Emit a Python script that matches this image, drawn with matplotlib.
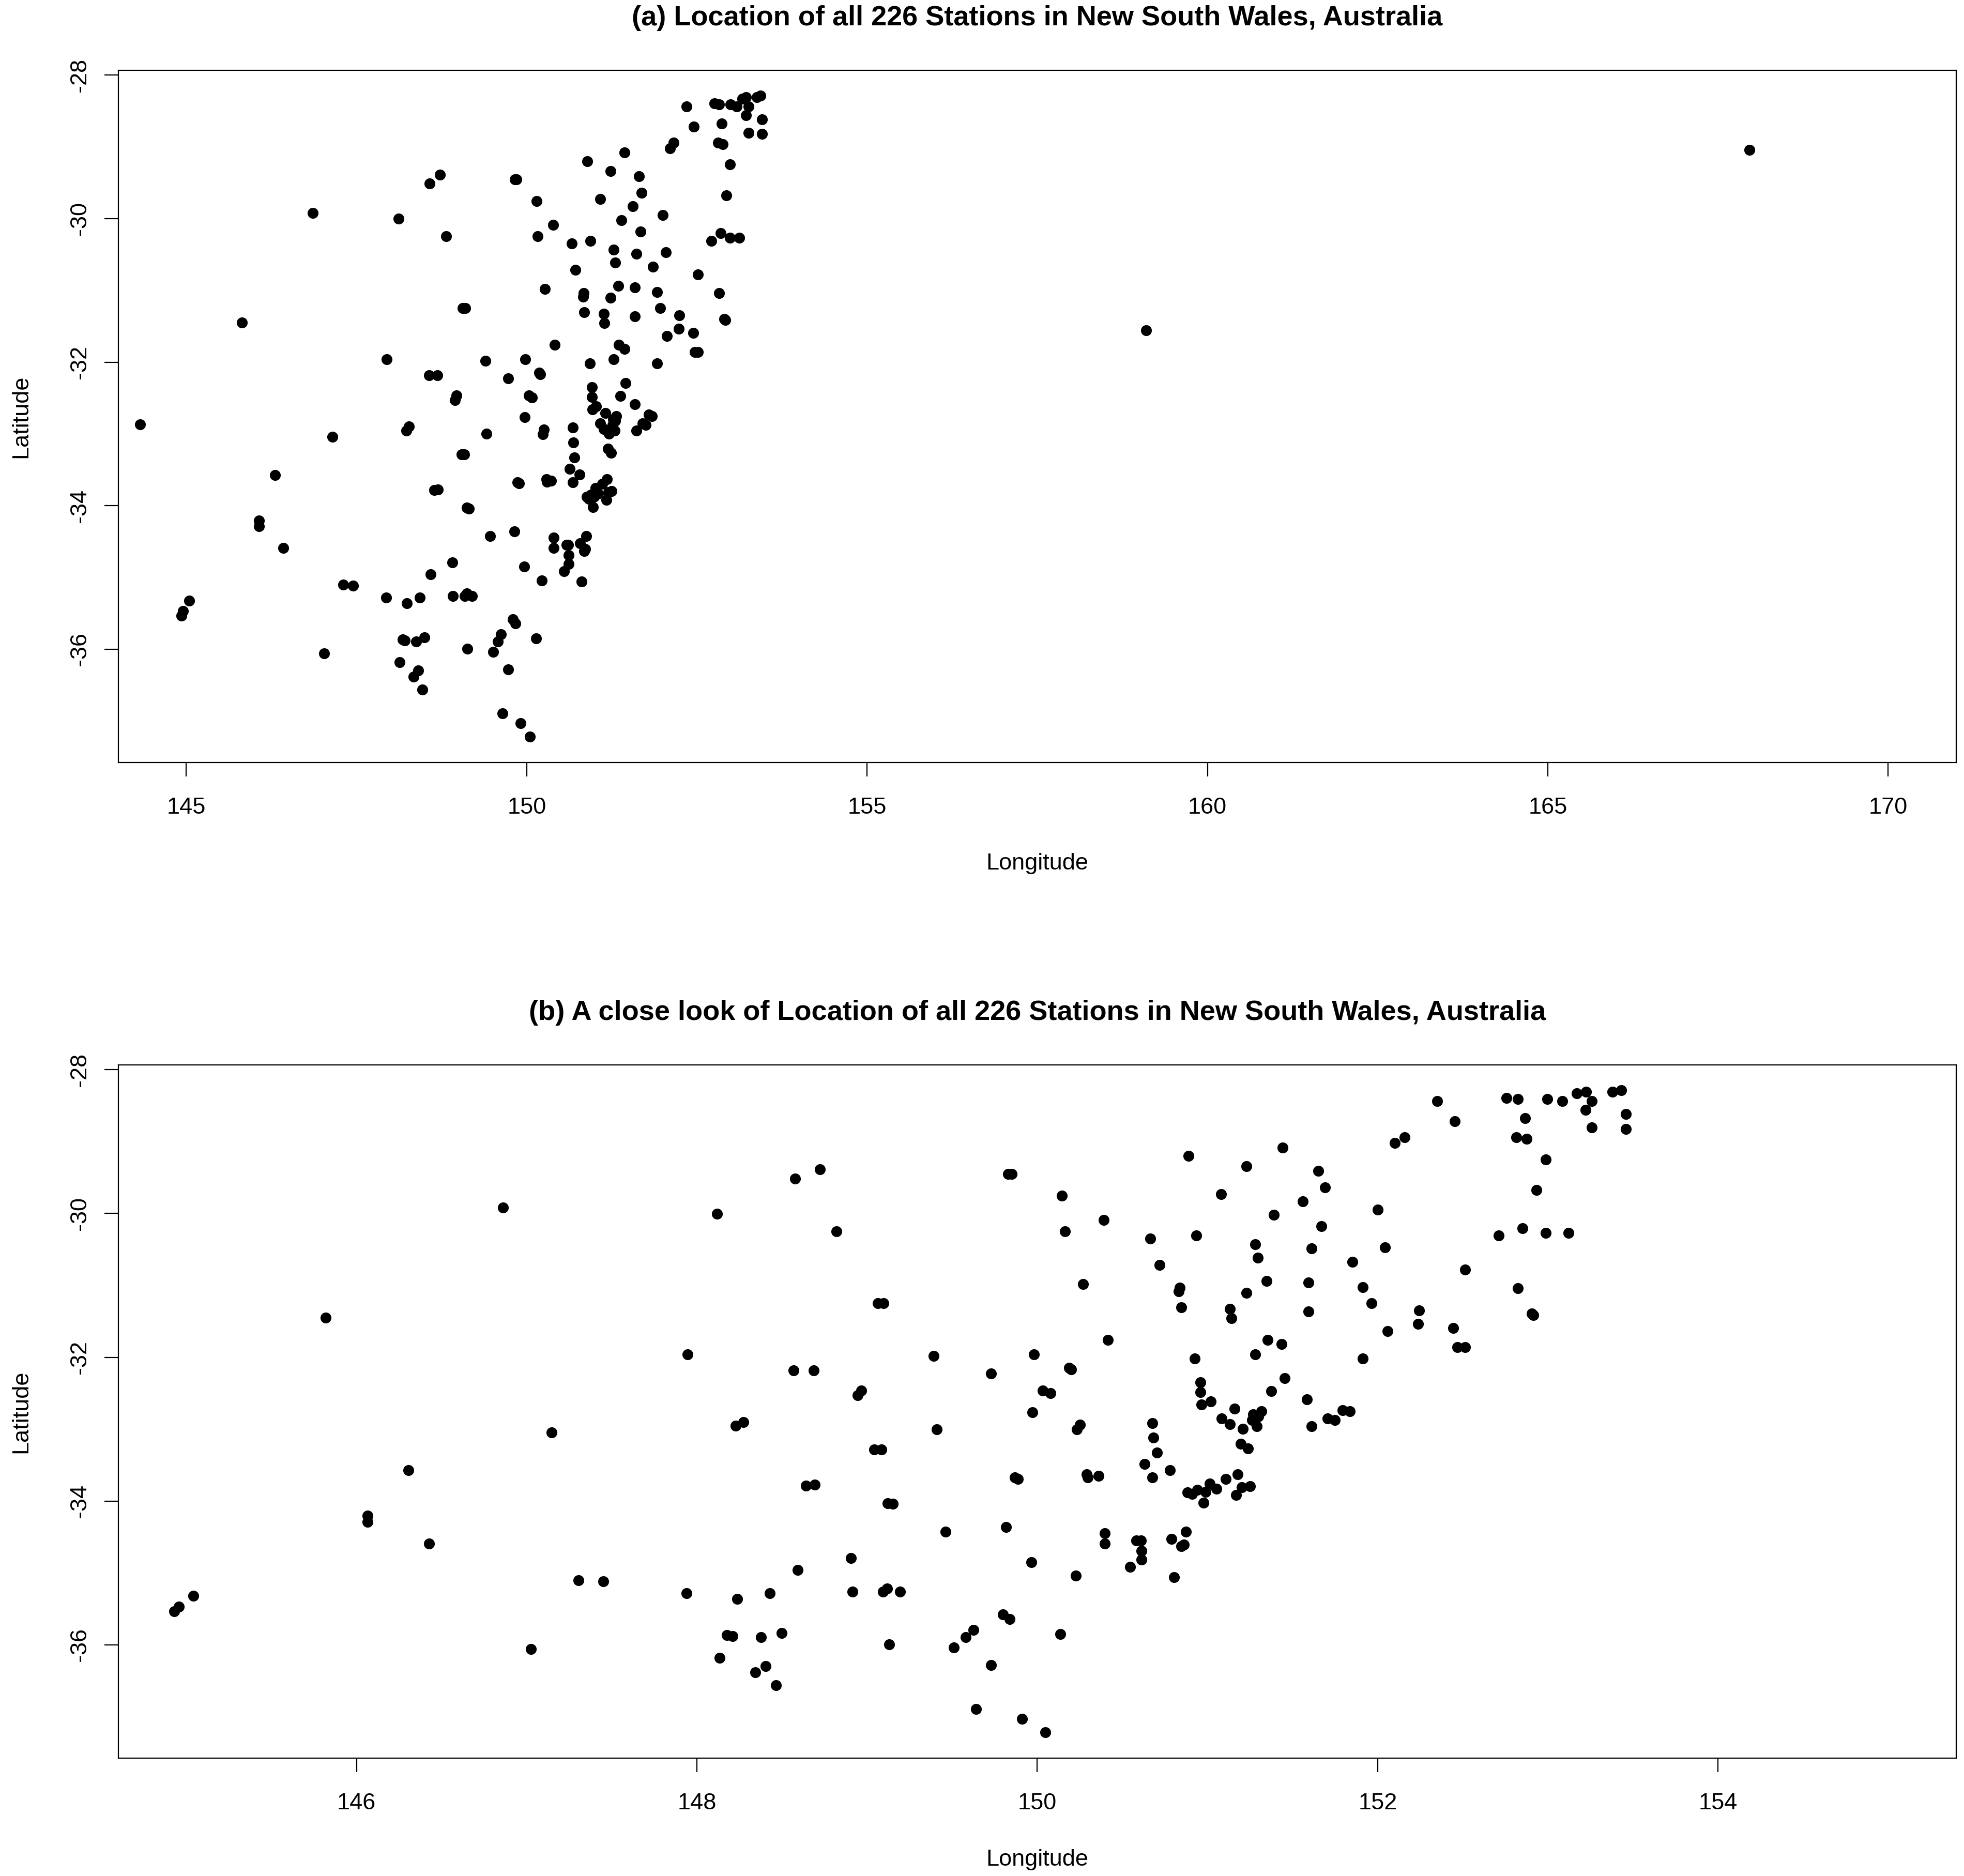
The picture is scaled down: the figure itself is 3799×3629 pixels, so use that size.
import matplotlib
matplotlib.use('Agg')
import matplotlib.pyplot as plt

# ── Station coordinates ───────────────────────────────────────────────────────
LON = [
    # west / inland
    144.32, 144.93, 144.955, 145.04, 145.82, 146.065, 146.065, 146.306, 146.428, 146.861,
    147.147, 147.024, 147.303, 147.45, 147.938, 147.945, 148.119, 148.133, 148.176, 148.211,
    148.237, 148.229, 148.272, 148.342, 148.403, 148.377, 148.429, 148.464, 148.497, 148.577,
    148.569, 148.591, 148.642, 148.694, 148.687, 148.724, 148.820, 148.905, 148.914, 148.966,
    148.945, 149.043, 149.083, 149.062, 149.095, 149.092, 149.118, 149.130, 149.12, 149.15,
    149.193, 149.392, 149.409, 149.462, 149.510, 149.580, 149.624, 149.641, 149.728, 149.728,
    149.816, 149.798, 149.838, 149.83, 149.85, 149.868, 149.885, 149.911, 149.981, 149.972,
    149.964, 150.046, 150.033, 150.077, 150.135, 150.145, 150.163, 150.187, 150.199, 150.234,
    150.25, 150.225, 150.27, 150.29, 150.295, 150.36, 150.39, 150.415,
    # south coast
    150.398, 150.398, 150.583, 150.608, 150.613, 150.613, 150.545, 150.787, 150.874, 150.846,
    150.861, 150.805,
    # northern tablelands
    150.89, 151.08, 151.23, 151.39, 151.44, 151.56, 151.65, 151.67, 151.69, 152.00,
    # hunter / central coast / sydney
    150.665, 150.934, 150.719, 151.281, 151.297, 151.611, 152.042, 151.853, 150.836, 150.830,
    150.847, 151.348, 151.229, 151.592, 151.912, 151.964, 151.133, 151.142, 151.592, 152.059,
    151.354, 151.435, 151.281, 150.925, 151.912, 151.453, 150.960, 150.960, 151.375, 151.585,
    150.966, 151.020, 151.158, 151.267, 151.316, 151.263, 151.291, 151.30, 151.082, 151.133,
    151.209, 151.612, 151.706, 151.749, 151.793, 151.836, 150.676, 150.683, 150.703, 150.630,
    150.779, 150.676, 151.194, 151.237, 151.177, 151.107, 151.012, 151.053, 150.882, 150.909,
    150.941, 150.990, 150.977, 151.202, 151.250, 151.169,
    # north coast
    152.349, 152.453, 152.157, 152.102, 152.756, 152.824, 152.867, 152.815, 152.876, 152.997,
    153.084, 153.171, 153.225, 153.258, 153.223, 153.258, 153.379, 153.431, 153.458, 153.458,
    152.989, 152.932, 152.712, 152.851, 152.989, 153.120, 152.515, 152.824, 152.243, 152.236,
    152.444, 152.905, 152.915, 152.468, 152.513,
    # offshore islands
    159.10, 167.96,
]

LAT = [
    # west / inland
    -32.87, -35.53, -35.47, -35.32, -31.45, -34.205, -34.289, -33.571, -34.589, -29.919,
    -33.043, -36.057, -35.101, -35.117, -35.282, -31.959, -30.003, -36.179, -35.861, -35.876,
    -35.361, -32.955, -32.899, -36.382, -36.298, -35.892, -35.282, -36.563, -35.835, -29.512,
    -32.181, -34.955, -33.783, -33.774, -32.181, -29.388, -30.246, -34.792, -35.261, -32.466,
    -32.526, -33.286, -33.286, -31.247, -31.247, -35.261, -35.220, -35.995, -34.03, -34.04,
    -35.261, -31.980, -32.999, -34.423, -36.039, -35.892, -35.792, -36.891, -32.223, -36.282,
    -34.361, -35.579, -35.642, -29.45, -29.45, -33.674, -33.69, -37.032, -31.959, -32.763,
    -34.851, -37.219, -32.466, -32.496, -35.851, -29.755, -30.246, -32.150, -32.171, -33.002,
    -32.94, -35.039, -30.98, -33.63, -33.67, -33.65, -30.09, -31.755,
    # south coast
    -34.446, -34.590, -34.546, -34.546, -34.690, -34.811, -34.914, -34.527, -34.426, -34.630,
    -34.606, -35.058,
    # northern tablelands
    -29.20, -29.73, -29.34, -30.02, -29.08, -29.83, -29.41, -30.18, -29.64, -29.95,
    # hunter / central coast / sydney
    -30.348, -30.309, -30.713, -30.430, -30.615, -30.489, -30.471, -30.674, -31.035, -31.086,
    -31.305, -30.939, -31.104, -30.957, -31.022, -31.246, -31.325, -31.454, -31.364, -31.634,
    -31.755, -31.814, -31.961, -32.020, -32.020, -32.288, -32.347, -32.488, -32.468, -32.586,
    -32.656, -32.612, -32.712, -32.797, -32.754, -32.875, -32.957, -32.82, -32.854, -32.934,
    -32.998, -32.957, -32.854, -32.875, -32.733, -32.754, -32.913, -33.119, -33.325, -33.487,
    -33.569, -33.672, -33.204, -33.266, -33.628, -33.693, -33.755, -33.832, -33.878, -33.904,
    -33.847, -33.873, -34.020, -33.809, -33.796, -33.917,
    # north coast
    -28.436, -28.719, -28.943, -29.020, -28.392, -28.410, -28.675, -28.943, -28.964, -28.410,
    -28.436, -28.328, -28.307, -28.436, -28.557, -28.802, -28.307, -28.289, -28.616, -28.822,
    -29.247, -29.676, -30.309, -30.204, -30.268, -30.268, -30.778, -31.040, -31.349, -31.532,
    -31.594, -31.395, -31.410, -31.859, -31.859,
    # offshore islands
    -31.56, -29.04,
]

TITLE_A = '(a) Location of all 226 Stations in New South Wales, Australia'
TITLE_B = '(b) A close look of Location of all 226 Stations in New South Wales, Australia'
XTICKS_A = [145, 150, 155, 160, 165, 170]
XTICKS_B = [146, 148, 150, 152, 154]
YTICKS = [-28, -30, -32, -34, -36]
XLIM_A = (145, 170)
XLIM_B = (145, 155)

# ── Style ─────────────────────────────────────────────────────────────────────
plt.rcParams['font.family'] = ['Liberation Sans', 'DejaVu Sans']
FS = 16.25
AX_LW = 0.8


def r_lim(lo, hi, frac=0.04):
    # R-style axis range: extend 4% each side
    span = hi - lo
    return lo - frac * span, hi + frac * span


def draw_panel(ax, title, xlim, xticks):
    ax.plot(LON, LAT, linestyle='none', marker='o', markersize=7.6,
            color='black', markeredgewidth=0, clip_on=True)
    ax.set_xlim(*r_lim(*xlim))
    ax.set_ylim(*r_lim(min(LAT), max(LAT)))
    ax.set_xticks(xticks)
    ax.set_yticks(YTICKS)
    ax.set_xticklabels([str(t) for t in xticks])
    ax.set_yticklabels([str(t) for t in YTICKS], rotation=90, va='center')
    ax.tick_params(axis='both', direction='out', length=9.7, width=AX_LW,
                   labelsize=FS, color='black')
    ax.tick_params(axis='x', pad=14.5)
    ax.tick_params(axis='y', pad=9.5)
    for s in ax.spines.values():
        s.set_linewidth(AX_LW)
    ax.set_xlabel('Longitude', fontsize=FS)
    ax.set_ylabel('Latitude', fontsize=FS)
    ax.xaxis.set_label_coords(0.5, -196 / 1339)
    ax.xaxis.label.set_va('center')
    ax.yaxis.set_label_coords(-0.0528, 0.5)
    ax.yaxis.label.set_va('center')
    ax.text(0.5, 1 + 101 / 1339, title, transform=ax.transAxes,
            ha='center', va='center', fontsize=FS * 1.2, fontweight='bold')


fig = plt.figure(figsize=(18.995, 18.145), dpi=200, facecolor='white')
ax_a = fig.add_axes([0.0602, 0.5936, 0.9359, 0.3690])
ax_b = fig.add_axes([0.0602, 0.0628, 0.9359, 0.3696])

draw_panel(ax_a, TITLE_A, XLIM_A, XTICKS_A)
draw_panel(ax_b, TITLE_B, XLIM_B, XTICKS_B)

fig.savefig('out.png', dpi=200, facecolor='white')
